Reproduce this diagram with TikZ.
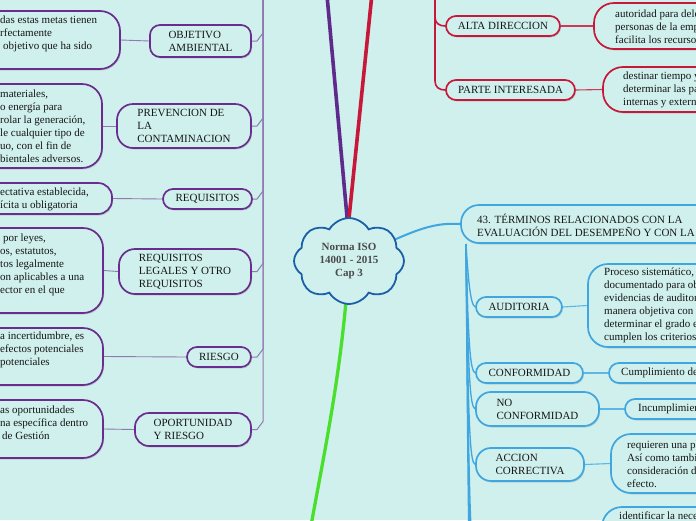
\documentclass[tikz,border=0pt]{standalone}
\usepackage{fontspec}
\setmainfont{Liberation Serif}
\usetikzlibrary{shapes.symbols,shadows}
\definecolor{bg}{HTML}{CFF0EC}
\definecolor{pur}{HTML}{6A2C8F}
\definecolor{purm}{HTML}{5E2A8C}
\definecolor{purl}{HTML}{9278B2}
\definecolor{redc}{HTML}{C8183A}
\definecolor{redl}{HTML}{CC3A58}
\definecolor{blu}{HTML}{3FA6DF}
\definecolor{blul}{HTML}{5CB6E6}
\definecolor{cloudb}{HTML}{1A5FA8}
\definecolor{grn}{HTML}{48E02C}
\definecolor{txt}{HTML}{161616}
\definecolor{ctxt}{HTML}{4A4A4A}
\pgfdeclarelayer{paper}
\pgfdeclarelayer{back}
\pgfsetlayers{paper,back,main}
\begin{document}
\begin{tikzpicture}[x=1pt,y=-1pt,
  every node/.style={font=\fontsize{11pt}{13pt}\selectfont, text=txt},
  shapebase/.style={rectangle, inner sep=0pt, line width=1.7pt, fill=bg,
    drop shadow={shadow xshift=1pt,shadow yshift=-1.5pt,opacity=0.28}},
  pnode/.style={shapebase, draw=pur, rounded corners=#1, align=left},
  pnode/.default=10pt,
  rnode/.style={shapebase, draw=redc, rounded corners=#1, align=left},
  rnode/.default=10pt,
  bnode/.style={shapebase, draw=blu, rounded corners=#1, align=left},
  bnode/.default=10pt,
  txtblk/.style={anchor=west, align=left, inner sep=0pt},
  pthin/.style={draw=purl, line width=0.9pt},
  rthin/.style={draw=redl, line width=1.1pt},
  bthin/.style={draw=blul, line width=1.1pt},
  pside/.style={draw=purl, line width=1pt},
  rside/.style={draw=redc, line width=1.6pt, line join=round},
  bside/.style={draw=blu, line width=1.3pt},
  mainline/.style={line width=3.6pt, line cap=round},
]
\useasboundingbox (0,0) rectangle (696,520);
\begin{pgfonlayer}{paper}
\fill[bg] (0,0) rectangle (696,520);
\end{pgfonlayer}
\clip (0,0) rectangle (696,520);

% ---------- purple (left) ----------
\node[pnode=20pt, minimum width=270pt, minimum height=58pt] (pb1) at (-15,40) {};
\node[txtblk] (pt1) at (0,34) {das estas metas tienen\\rfectamente\\\hspace*{3pt}objetivo que ha sido};
\node[pnode, minimum width=101pt, minimum height=32pt] (obj) at (200.5,41) {OBJETIVO\\AMBIENTAL};

\node[pnode=20pt, minimum width=252pt, minimum height=84pt] (pb2) at (-24,126) {};
\node[txtblk] (pt2) at (0,126) {materiales,\\o energía para\\rolar la generación,\\le cualquier tipo de\\uo, con el fin de\\bientales adversos.};
\node[pnode=16pt, minimum width=134pt, minimum height=44pt] (prev) at (184,126) {PREVENCION DE\\LA\\CONTAMINACION};

\node[pnode=14pt, minimum width=262pt, minimum height=31pt] (pb3) at (-19,198.5) {};
\node[txtblk] (pt3) at (0,199) {ectativa establecida,\\ícita u obligatoria};
\node[pnode, minimum width=89pt, minimum height=20pt] (req) at (207.5,199) {REQUISITOS};

\node[pnode=20pt, minimum width=253pt, minimum height=85pt] (pb4) at (-23.5,270.5) {};
\node[txtblk] (pt4) at (0,265) {\hspace*{3pt}por leyes,\\os, estatutos,\\tos legalmente\\on aplicables a una\\ector en el que};
\node[pnode=16pt, minimum width=132pt, minimum height=45pt] (reql) at (185,271.5) {REQUISITOS\\LEGALES Y OTRO\\REQUISITOS};

\node[pnode=20pt, minimum width=253pt, minimum height=57pt] (pb5) at (-23.5,356.5) {};
\node[txtblk] (pt5) at (0,350) {a incertidumbre, es\\efectos potenciales\\potenciales};
\node[pnode, minimum width=64pt, minimum height=20pt] (riesgo) at (219,357) {RIESGO};

\node[pnode=20pt, minimum width=253pt, minimum height=58pt] (pb6) at (-23.5,429) {};
\node[txtblk] (pt6) at (0,423) {as oportunidades\\na específica dentro\\\hspace*{2pt}de Gestión};
\node[pnode=14pt, minimum width=116pt, minimum height=33pt] (oport) at (193,429.5) {OPORTUNIDAD\\Y RIESGO};

\coordinate (ptop) at (263,-10);
\coordinate (pmain) at (322,-60);

% ---------- red (top right) ----------
\node[rnode, minimum width=114pt, minimum height=20pt] (alta) at (503,26) {ALTA DIRECCION};
\node[rnode=20pt, minimum width=256pt, minimum height=46pt] (rb1) at (722,26) {};
\node[txtblk] (rt1) at (615,27) {autoridad para dele\\personas de la emp\\facilita los recurso};
\node[rnode, minimum width=129pt, minimum height=20pt] (parte) at (510.5,90) {PARTE INTERESADA};
\node[rnode=20pt, minimum width=247pt, minimum height=45pt] (rb2) at (726.5,89.5) {};
\node[txtblk] (rt2) at (623,90) {destinar tiempo y\\determinar las pa\\internas y extern};
\coordinate (rtop) at (435,-10);
\coordinate (rmain) at (377.5,-60);

% ---------- blue (right) ----------
\node[bnode=18pt, minimum width=439pt, minimum height=38pt] (t43) at (680.5,224) {};
\node[txtblk] (t43t) at (477,225) {43. TÉRMINOS RELACIONADOS CON LA\\EVALUACIÓN DEL DESEMPEÑO Y CON LA};
\coordinate (bsp) at (466,244);

\node[bnode, minimum width=86pt, minimum height=20pt] (aud) at (519,307) {AUDITORIA};
\node[bnode=20pt, minimum width=262pt, minimum height=83pt] (bb1) at (719,305.5) {};
\node[txtblk] (bt1) at (604,305.5) {Proceso sistemático,\\documentado para ob\\evidencias de auditor\\manera objetiva con\\determinar el grado e\\cumplen los criterios};

\node[bnode, minimum width=107pt, minimum height=20pt] (conf) at (529.5,373) {CONFORMIDAD};
\node[bnode, minimum width=241pt, minimum height=20pt] (bb2) at (729.5,373) {};
\node[txtblk] (bt2) at (621,373) {Cumplimiento de};

\node[bnode=15pt, minimum width=123pt, minimum height=34pt] (noconf) at (537.5,409) {NO\\CONFORMIDAD};
\node[bnode, minimum width=225pt, minimum height=20pt] (bb3) at (737.5,409) {};
\node[txtblk] (bt3) at (638,409) {Incumplimien};

\node[bnode=15pt, minimum width=108pt, minimum height=33pt] (acc) at (530,464.5) {ACCION\\CORRECTIVA};
\node[bnode=20pt, minimum width=239pt, minimum height=59pt] (bb4) at (730.5,463.5) {};
\node[txtblk] (bt4) at (627,464.5) {requieren una pl\\Así como tambi\\consideración d\\efecto.};

\node[bnode=20pt, minimum width=248pt, minimum height=53pt] (bb5) at (726,533.5) {};
\node[txtblk] (bt5) at (619,515.5) {identificar la nece};

\coordinate (boff1) at (476,560);
\coordinate (boff2) at (476,610);
\coordinate (boff3) at (476,680);

% ---------- central cloud ----------
\node[cloud, cloud puffs=8, cloud puff arc=120, aspect=1.3, draw=cloudb, line width=1.8pt,
  fill=bg, minimum width=110pt, minimum height=86pt, inner sep=0pt, align=center,
  font=\fontsize{11pt}{13pt}\selectfont\bfseries, text=ctxt] (cloud) at (349,261)
  {Norma ISO\\14001 - 2015\\Cap 3};
\coordinate (ctop) at (348,228);
\coordinate (gbot) at (305,560);

% ---------- connectors ----------
\begin{pgfonlayer}{back}
  \draw[mainline, draw=purm] (ctop) -- (pmain);
  \draw[mainline, draw=redc] (ctop) -- (rmain);
  \draw[line width=3.3pt, draw=grn] (cloud.center) .. controls (342,380) and (320,470) .. (gbot);
  \draw[line width=2pt, draw=blu] (cloud.center) .. controls (410,232) and (430,222) .. (t43.west);

  % purple
  \foreach \n/\yy in {obj/41, prev/126, req/199, reql/271.5, riesgo/357, oport/429.5}
    \draw[pside, line join=round] (ptop) -- (263,\yy-8) -- (257,\yy) -- (\n.east);
  \draw[pthin] (pb1.east) -- (obj.west);
  \draw[pthin] (pb2.east) -- (prev.west);
  \draw[pthin] (pb3.east) -- (req.west);
  \draw[pthin] (pb4.east) -- (reql.west);
  \draw[pthin] (pb5.east) -- (riesgo.west);
  \draw[pthin] (pb6.east) -- (oport.west);

  % red
  \foreach \n/\yy in {alta/26, parte/90}
    \draw[rside] (rtop) -- (435,\yy-9) .. controls (435,\yy-3) and (439,\yy) .. (\n.west);
  \draw[rthin] (alta.east) -- (rb1.west);
  \draw[rthin] (parte.east) -- (rb2.west);

  % blue
  \foreach \n in {aud, conf, noconf, acc}
    \draw[bside] (bsp) .. controls ([shift={(-7,-30)}]\n.west) and ([shift={(-5,-2)}]\n.west) .. (\n.west);
  \foreach \n in {boff1, boff2, boff3}
    \draw[bside] (bsp) .. controls ([shift={(-7,-30)}]\n) and ([shift={(-5,-2)}]\n) .. (\n);
  \draw[bthin] (aud.east) -- (bb1.west);
  \draw[bthin] (conf.east) -- (bb2.west);
  \draw[bthin] (noconf.east) -- (bb3.west);
  \draw[bthin] (acc.east) -- (bb4.west);
\end{pgfonlayer}
\end{tikzpicture}
\end{document}
